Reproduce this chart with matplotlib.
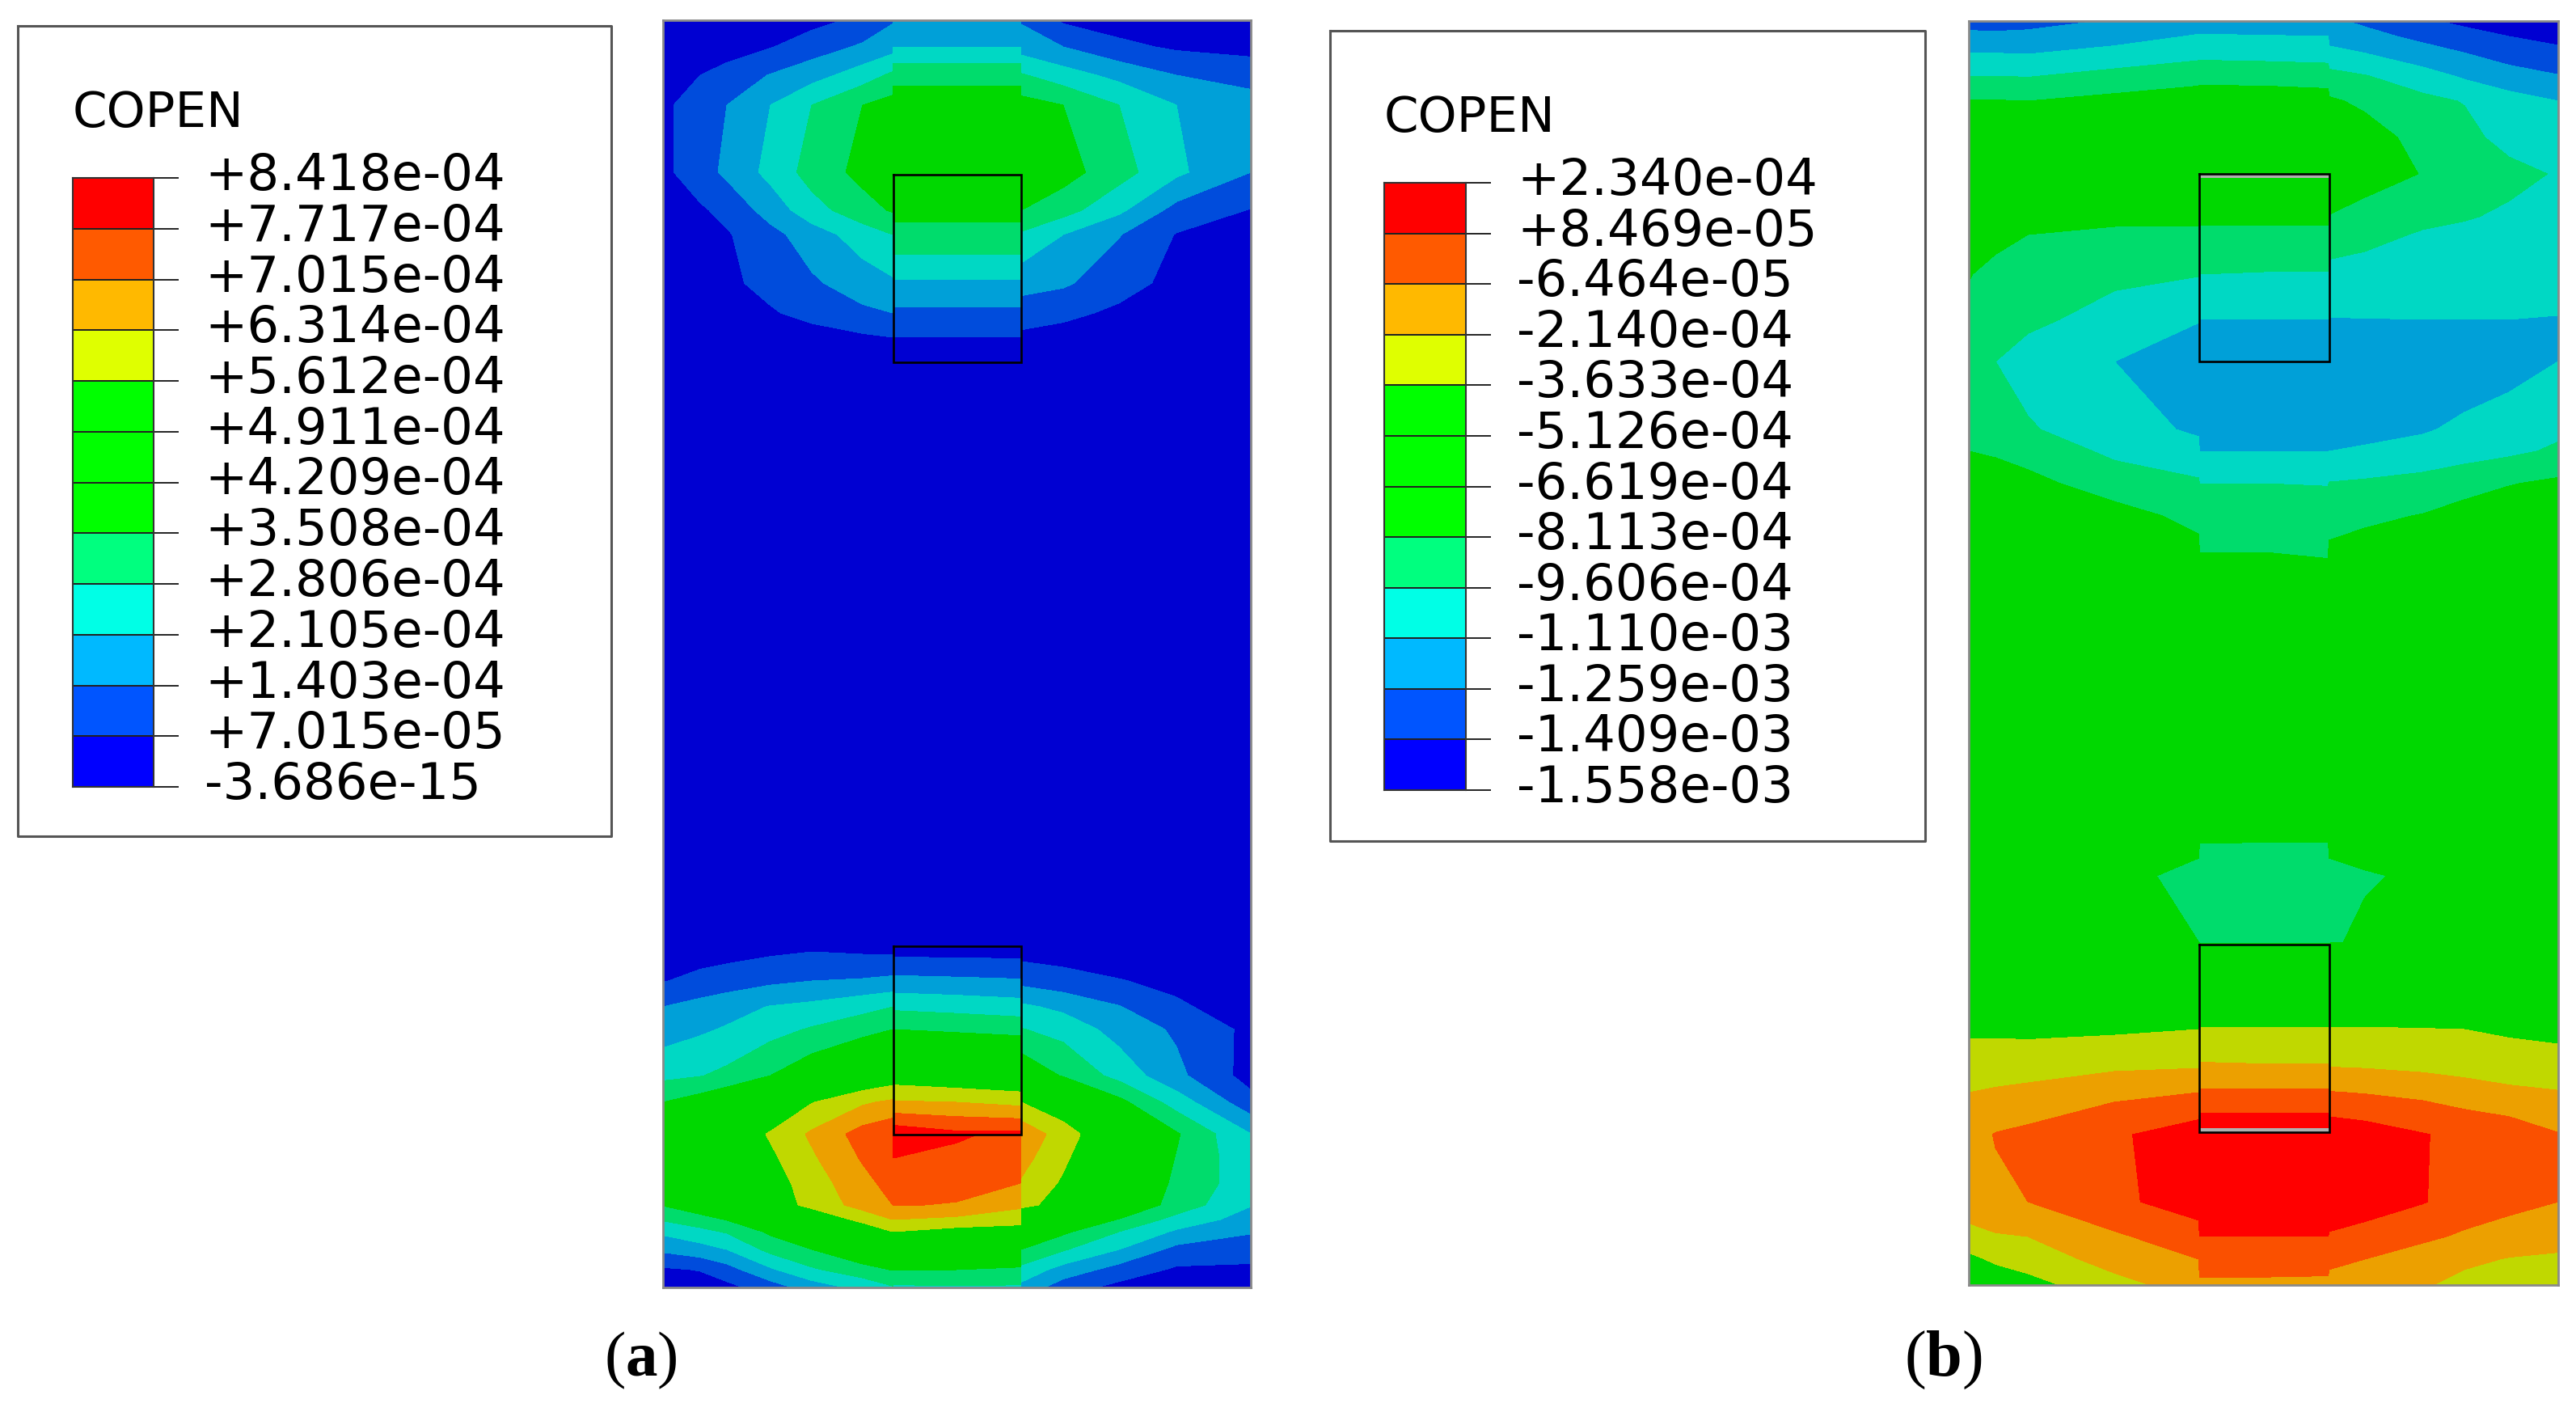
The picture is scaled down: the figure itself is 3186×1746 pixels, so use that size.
import numpy as np
import matplotlib
matplotlib.use("Agg")
import matplotlib.pyplot as plt
from matplotlib.colors import ListedColormap, BoundaryNorm

plt.rcParams['font.family'] = ['DejaVu Sans']
plt.rcParams['mathtext.fontset'] = 'custom'
plt.rcParams['mathtext.bf'] = 'Liberation Serif:bold'
plt.rcParams['mathtext.rm'] = 'Liberation Serif'

W, H = 3186, 1746

labels_a = ["+8.418e-04", "+7.717e-04", "+7.015e-04", "+6.314e-04", "+5.612e-04", "+4.911e-04", "+4.209e-04",
            "+3.508e-04", "+2.806e-04", "+2.105e-04", "+1.403e-04", "+7.015e-05", "-3.686e-15"]
labels_b = ["+2.340e-04", "+8.469e-05", "-6.464e-05", "-2.140e-04", "-3.633e-04", "-5.126e-04", "-6.619e-04",
            "-8.113e-04", "-9.606e-04", "-1.110e-03", "-1.259e-03", "-1.409e-03", "-1.558e-03"]

plot_colors = ['#0000d2', '#004cdc', '#00a0d8', '#00d8c4', '#00dc6c', '#00d800', '#00d800', '#00d800',
               '#c0d800', '#eca000', '#fa5000', '#ff0000']
legend_colors = ['#0000ff', '#0055ff', '#00b9ff', '#00ffe6', '#00ff7f', '#00ff00', '#00ff00', '#00ff00',
                 '#dfff00', '#ffb900', '#ff5a00', '#ff0000']

# node positions along the plate and COPEN expressed in legend-band units (0 = lowest tick, 12 = highest)
x_a = [0, 46, 79, 133, 184, 247, 284, 285, 363, 442, 443, 495, 564, 635, 727]
y_a = [0, 33, 68, 105, 188, 235, 265, 325, 362, 392, 423,
       1125, 1152, 1188, 1220, 1248, 1305, 1338, 1377, 1379, 1407, 1438, 1465, 1483, 1498, 1520, 1545, 1567]
band_a = [
    [.1, .2, .3, .5, .7, 1.2, 1.9, 2.2, 2.3, 2.2, 1.9, .85, .5, .3, .1],
    [.1, .3, .5, .95, 1.5, 2.15, 2.6, 3.0, 3.0, 3.0, 2.55, 2.0, 1.25, .85, .7],
    [.5, 1.0, 1.4, 2.05, 2.6, 3.5, 4.2, 4.7, 4.7, 4.7, 4.1, 3.45, 2.7, 2.0, 1.55],
    [.8, 1.5, 2, 3, 4, 5, 5.4, 5.5, 5.5, 5.5, 5.4, 5, 4, 3, 2.5],
    [.75, 1.6, 2.2, 3.3, 4.4, 5.3, 5.5, 5.8, 5.8, 5.8, 5.7, 5.4, 4.4, 3.2, 2.0],
    [.4, .85, 1.3, 2.4, 3.6, 4.6, 5.1, 5.2, 5.2, 5.2, 5.0, 4.4, 3.2, 1.65, .95],
    [.3, .6, .9, 1.7, 2.5, 3.5, 4.0, 4.8, 4.8, 4.8, 3.85, 3.0, 2.05, .95, .5],
    [.2, .5, .8, 1.3, 1.85, 2.5, 2.85, 2.85, 2.85, 2.85, 2.4, 2.15, 1.4, .7, .3],
    [.1, .3, .5, .9, 1.3, 1.8, 2.0, 1.8, 1.8, 1.8, 1.45, 1.25, .8, .4, .2],
    [.1, .15, .2, .3, .6, .85, 1.0, 1.0, 1.0, 1.0, .8, .6, .3, .2, .1],
    [.1, .1, .1, .1, .2, .2, .2, .3, .3, .3, .2, .2, .1, .1, .1],
    [.2, .2, .2, .2, .2, .2, .2, .2, .2, .2, .2, .2, .2, .2, .2],
    [.4, .55, .65, .85, 1.0, .9, .85, .7, .7, .65, .65, .55, .4, .3, .15],
    [.95, 1.3, 1.5, 1.8, 2.0, 2.1, 2.25, 2.3, 2.2, 2.1, 1.7, 1.4, 1.05, .75, .35],
    [2.0, 2.35, 2.6, 3.05, 3.25, 3.7, 4.0, 3.8, 3.65, 3.45, 3.2, 2.75, 2.05, 1.15, .5],
    [2.5, 2.85, 3.1, 3.65, 4.1, 4.6, 5.0, 5.0, 4.85, 4.7, 4.05, 3.65, 2.6, 1.85, .75],
    [3.75, 3.95, 4.25, 5.0, 5.8, 6.9, 7.3, 7.4, 7.1, 6.9, 5.9, 4.9, 3.65, 2.25, .6],
    [5.0, 5.5, 6, 6.9, 7.95, 8.85, 9.2, 9.1, 9.0, 8.7, 8.0, 7.2, 5.3, 3.55, 1.35],
    [5.8, 6.5, 7.1, 8.1, 9.15, 10.4, 10.8, 11.7, 11.2, 11.2, 9.7, 8.5, 6.85, 5.1, 3.0],
    [5.8, 6.5, 7.1, 8.1, 9.15, 10.4, 10.8, 11.6, 11.2, 10.5, 9.7, 8.5, 6.85, 5.1, 3.0],
    [5.9, 6.5, 7.0, 7.8, 8.85, 10.1, 10.7, 11.0, 10.6, 10.2, 9.35, 8.2, 6.5, 4.95, 3.3],
    [5.9, 6.3, 6.7, 7.5, 8.5, 9.7, 10.35, 10.5, 10.3, 10.0, 8.9, 7.85, 6.2, 4.8, 3.4],
    [5.05, 5.7, 6.2, 7.4, 8.3, 9.4, 10.0, 10.05, 9.95, 9.2, 8.35, 7.5, 6.0, 4.6, 3.05],
    [4.1, 4.6, 5.05, 6.0, 7.1, 8.3, 9.0, 9.0, 8.75, 8.4, 6.6, 6.0, 4.95, 3.65, 2.55],
    [3.2, 3.7, 4.1, 5.2, 5.9, 7.2, 8.0, 8.0, 7.6, 7.5, 5.9, 5.2, 4.0, 2.85, 2.1],
    [2.2, 2.6, 3.0, 4.3, 5.0, 6.0, 6.5, 6.6, 6.3, 6.0, 5.0, 4.1, 3.0, 1.7, 1.35],
    [.85, 1.05, 1.6, 2.85, 3.85, 4.6, 5.05, 5.05, 5.0, 4.85, 3.7, 2.6, 1.6, .85, .85],
    [.4, .5, .7, 1.5, 2.45, 3.3, 3.9, 3.8, 3.9, 3.85, 2.7, 1.45, .7, .4, .3],
]

x_b = [0, 33, 73, 180, 284, 285, 366, 444, 445, 489, 561, 612, 667, 728]
y_b = [0, 19, 41, 68, 99, 144, 189, 242, 264, 313, 369, 421, 505, 532, 572, 612, 657,
       974, 1017, 1035, 1057, 1139, 1145, 1203, 1247, 1292, 1325, 1377, 1460, 1503, 1531, 1563]
band_b = [
    [1.6, 1.6, 1.6, 2.1, 2.4, 2.4, 2.4, 2.4, 2.15, 1.85, 1.15, .75, .4, .1],
    [2.25, 2.2, 2.3, 2.55, 3.1, 3.1, 3.05, 3.0, 2.6, 2.25, 1.8, 1.4, 1.0, .75],
    [3.05, 3.05, 3.0, 3.4, 3.75, 3.75, 3.7, 3.65, 3.35, 3.05, 2.35, 2.05, 1.6, 1.25],
    [4.0, 4.0, 3.95, 4.3, 4.6, 4.65, 4.6, 4.5, 4.3, 4.05, 3.45, 2.85, 2.4, 2.05],
    [5.05, 5.05, 5.0, 5.3, 5.6, 5.6, 5.6, 5.5, 5.15, 4.8, 4.25, 3.95, 3.4, 3.0],
    [5.8, 5.8, 5.9, 6, 6.2, 6.2, 6.2, 6.1, 6.0, 5.45, 4.65, 4.35, 3.6, 3.2],
    [5.6, 5.8, 6, 6.1, 6.1, 6.1, 6.1, 6.0, 5.9, 5.55, 4.95, 4.6, 4.35, 3.9],
    [5.35, 5.6, 5.7, 5.3, 5.25, 5.25, 5.25, 5.25, 4.95, 4.55, 4.25, 4.1, 3.8, 3.45],
    [5.3, 5.3, 5.0, 4.75, 4.75, 4.75, 4.75, 4.75, 4.5, 4.3, 3.9, 3.7, 3.5, 3.3],
    [5.05, 4.7, 4.4, 4.2, 4.05, 4.0, 3.95, 3.95, 3.7, 3.6, 3.55, 3.5, 3.4, 3.3],
    [4.75, 4.5, 4.2, 3.65, 3.05, 3.0, 3.0, 3.0, 2.97, 2.98, 3.0, 3.0, 3.0, 2.97],
    [4.4, 4.0, 3.6, 3.0, 2.4, 2.4, 2.4, 2.4, 2.4, 2.4, 2.4, 2.4, 2.5, 3.0],
    [4.8, 4.6, 4.1, 3.4, 2.85, 2.55, 2.55, 2.55, 2.7, 2.75, 2.9, 3.2, 3.6, 3.8],
    [5.0, 4.9, 4.6, 3.8, 3.3, 3.0, 3.0, 3.0, 3.0, 3.1, 3.35, 3.6, 3.8, 4.15],
    [5.6, 5.4, 5.3, 4.5, 4.15, 4.0, 4.0, 3.95, 4.05, 4.15, 4.35, 4.6, 4.95, 5.2],
    [6, 5.9, 5.8, 5.4, 4.7, 4.6, 4.6, 4.55, 4.6, 4.8, 5.05, 5.4, 5.6, 5.7],
    [6, 6, 6, 5.9, 5.3, 5.0, 5.0, 4.98, 5.2, 5.4, 5.7, 5.9, 5.9, 6],
    [5.8, 5.8, 5.8, 5.8, 5.8, 5.8, 5.8, 5.8, 5.8, 5.8, 5.8, 5.8, 5.8, 5.8],
    [5.8, 5.8, 5.8, 5.8, 5.3, 5.0, 4.97, 4.97, 5.3, 5.8, 5.8, 5.8, 5.8, 5.8],
    [5.8, 5.8, 5.8, 5.7, 5.0, 4.8, 4.8, 4.8, 5.0, 5.3, 5.8, 5.8, 5.8, 5.8],
    [5.8, 5.8, 5.8, 5.3, 4.7, 4.7, 4.7, 4.7, 4.7, 4.85, 5.25, 5.8, 5.8, 5.8],
    [5.8, 5.8, 5.8, 5.9, 5.0, 4.8, 4.8, 4.8, 4.8, 5.3, 5.8, 5.9, 5.9, 5.9],
    [5.9, 5.9, 5.9, 5.9, 5.9, 5.9, 5.9, 5.9, 5.9, 5.9, 5.9, 5.9, 5.9, 5.9],
    [6.5, 6.5, 6.5, 6.5, 6.5, 6.5, 6.5, 6.5, 6.5, 6.5, 6.5, 6.5, 6.5, 6.5],
    [7.8, 7.8, 7.75, 7.85, 8.0, 8.1, 8.1, 8.1, 8.1, 8.1, 8.05, 8.0, 7.85, 7.7],
    [8.55, 8.6, 8.65, 8.8, 8.9, 9.1, 9.05, 9.05, 8.95, 8.9, 8.75, 8.6, 8.5, 8.45],
    [9.0, 9.1, 9.2, 9.75, 10.0, 10.15, 10.15, 10.15, 10.05, 9.95, 9.75, 9.5, 9.2, 9.05],
    [9.6, 10.05, 10.25, 10.85, 11.55, 11.9, 11.9, 11.9, 11.7, 11.5, 11.05, 10.75, 10.6, 10.05],
    [9.4, 9.8, 10, 10.8, 11.45, 11.9, 11.9, 11.9, 11.6, 11.4, 11.05, 10.6, 10.3, 10.0],
    [8.75, 8.9, 9.0, 9.85, 10.6, 11.0, 11.0, 11.0, 10.9, 10.7, 10.2, 9.85, 9.55, 9.35],
    [7.7, 8.2, 8.5, 9.35, 10.0, 10.45, 10.45, 10.45, 10.2, 10.0, 9.5, 9.2, 8.95, 8.85],
    [7.0, 7.2, 7.6, 8.7, 9.4, 9.8, 9.8, 9.75, 9.7, 9.55, 9.1, 8.7, 8.35, 8.05],
]

# joint outlines on the plate: (x0, x1, y0, y1)
rects_a = [(284.5, 442.5, 191, 423), (284.5, 442.5, 1145, 1378)]
rects_b = [(285, 445, 189, 421), (285, 445, 1142, 1374)]
gaps_b = [(285, 445, 190, 194), (285, 445, 1369, 1374)]

# figure placement in pixels
plate_a = (820, 1547, 25, 1592)
plate_b = (2435, 3164, 26, 1589)
box_a = (22, 756, 32, 1034)
box_b = (1645, 2381, 38, 1040)
bar_a = (90, 190, 220, 973)
bar_b = (1712, 1813, 226, 977)


def place(fig, rect):
    x0, x1, y0, y1 = rect
    return fig.add_axes([x0 / W, 1 - y1 / H, (x1 - x0) / W, (y1 - y0) / H])


def draw_plate(fig, rect, x, y, band, joints, gaps=()):
    ax = place(fig, rect)
    ax.contourf(x, y, np.array(band), levels=np.arange(13), colors=plot_colors, antialiased=False)
    ax.set_xlim(x[0], x[-1])
    ax.set_ylim(y[-1], y[0])
    ax.set_xticks([])
    ax.set_yticks([])
    for s in ax.spines.values():
        s.set_color('#8a8a8a')
        s.set_linewidth(2)
    for g in gaps:
        ax.fill([g[0], g[1], g[1], g[0]], [g[2], g[2], g[3], g[3]], color='#b0b0b0', lw=0)
    for j in joints:
        ax.plot([j[0], j[1], j[1], j[0], j[0]], [j[2], j[2], j[3], j[3], j[2]], color='black', lw=1.9, solid_joinstyle='miter')


def draw_legend(fig, bg, box, bar, labels):
    bg.plot([box[0], box[1], box[1], box[0], box[0]], [box[2], box[2], box[3], box[3], box[2]],
            color='#555555', lw=2.2)
    ax = place(fig, bar)
    edges = np.arange(13)
    cmap = ListedColormap(legend_colors)
    norm = BoundaryNorm(edges, cmap.N)
    ax.pcolormesh([0, 1], edges, (edges[:-1] + 0.5).reshape(-1, 1), cmap=cmap, norm=norm,
                  edgecolors='#222222', linewidth=1.2)
    ax.set_xlim(0, 1)
    ax.set_ylim(0, 12)
    ax.set_xticks([])
    ax.yaxis.tick_right()
    ax.set_yticks(edges)
    ax.set_yticklabels(labels[::-1], fontsize=45, ha='left', va='center')
    ax.tick_params(axis='y', length=22.5, width=1.4, pad=23, color='#222222')
    for t in ax.get_yticklabels():
        t.set_y(0)
        t.set_transform(t.get_transform() + matplotlib.transforms.ScaledTranslation(0, 2 / 100, fig.dpi_scale_trans))
    for s in ax.spines.values():
        s.set_color('#333333')
        s.set_linewidth(1.5)
    bg.text(bar[0], bar[2] - 79, "COPEN", fontsize=44, ha='left', va='center', color='black')


fig = plt.figure(figsize=(W / 100, H / 100), dpi=100, facecolor='white')
bg = fig.add_axes([0, 0, 1, 1])
bg.set_xlim(0, W)
bg.set_ylim(H, 0)
bg.axis('off')

draw_plate(fig, plate_a, x_a, y_a, band_a, rects_a)
draw_plate(fig, plate_b, x_b, y_b, band_b, rects_b, gaps_b)
draw_legend(fig, bg, box_a, bar_a, labels_a)
draw_legend(fig, bg, box_b, bar_b, labels_b)

bg.text(792, 1682, r"($\mathbf{a}$)", family='Liberation Serif', fontsize=57, ha='center', va='center')
bg.text(2403, 1682, r"($\mathbf{b}$)", family='Liberation Serif', fontsize=58, ha='center', va='center')

fig.savefig("out.png", dpi=100)
